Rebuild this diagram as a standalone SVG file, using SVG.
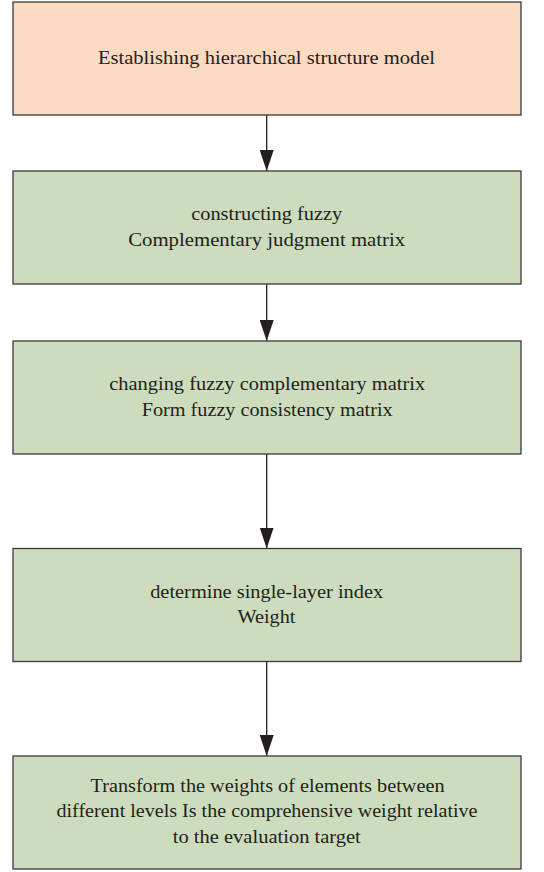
<svg xmlns="http://www.w3.org/2000/svg" width="544" height="872" viewBox="0 0 544 872">
<defs>
<style>
.box{stroke:#3a3a3a;stroke-width:1.3}
.peach{fill:#fcd9c1}
.green{fill:#cddcbc}
.t{font-family:"Liberation Serif","Times New Roman",serif;font-size:19px;fill:#231f20;text-anchor:middle}
.c{stroke:#231f20;stroke-width:1.3;fill:none}
</style>
<marker id="ah" markerWidth="21" markerHeight="14" refX="21" refY="7" orient="auto" markerUnits="userSpaceOnUse" viewBox="0 0 21 14">
<path d="M0,0 L21,7 L0,14 Z" fill="#231f20"/>
</marker>
</defs>
<rect width="544" height="872" fill="#ffffff"/>
<g id="connectors">
<line class="c" x1="266.7" y1="115" x2="266.7" y2="171" marker-end="url(#ah)"/>
<line class="c" x1="266.7" y1="284" x2="266.7" y2="341" marker-end="url(#ah)"/>
<line class="c" x1="266.7" y1="454" x2="266.7" y2="548.5" marker-end="url(#ah)"/>
<line class="c" x1="266.7" y1="661.5" x2="266.7" y2="756" marker-end="url(#ah)"/>
</g>
<g id="node1">
<rect class="box peach" x="13" y="2" width="508" height="113"/>
<text class="t" x="266.5" y="63.5" textLength="337" lengthAdjust="spacingAndGlyphs">Establishing hierarchical structure model</text>
</g>
<g id="node2">
<rect class="box green" x="13" y="171" width="508" height="113"/>
<text class="t" x="266.7" y="220" textLength="151" lengthAdjust="spacingAndGlyphs">constructing fuzzy</text>
<text class="t" x="266.7" y="245.5" textLength="277" lengthAdjust="spacingAndGlyphs">Complementary judgment matrix</text>
</g>
<g id="node3">
<rect class="box green" x="13" y="341" width="508" height="113"/>
<text class="t" x="267.2" y="390" textLength="316" lengthAdjust="spacingAndGlyphs">changing fuzzy complementary matrix</text>
<text class="t" x="267.2" y="415.5" textLength="251" lengthAdjust="spacingAndGlyphs">Form fuzzy consistency matrix</text>
</g>
<g id="node4">
<rect class="box green" x="13" y="548.5" width="508" height="113"/>
<text class="t" x="266.7" y="598" textLength="233" lengthAdjust="spacingAndGlyphs">determine single-layer index</text>
<text class="t" x="266.5" y="623" textLength="58" lengthAdjust="spacingAndGlyphs">Weight</text>
</g>
<g id="node5">
<rect class="box green" x="13" y="756" width="508" height="113"/>
<text class="t" x="267.5" y="791.5" textLength="354" lengthAdjust="spacingAndGlyphs">Transform the weights of elements between</text>
<text class="t" x="267" y="817" textLength="421" lengthAdjust="spacingAndGlyphs">different levels Is the comprehensive weight relative</text>
<text class="t" x="266.8" y="842.5" textLength="188" lengthAdjust="spacingAndGlyphs">to the evaluation target</text>
</g>
</svg>
